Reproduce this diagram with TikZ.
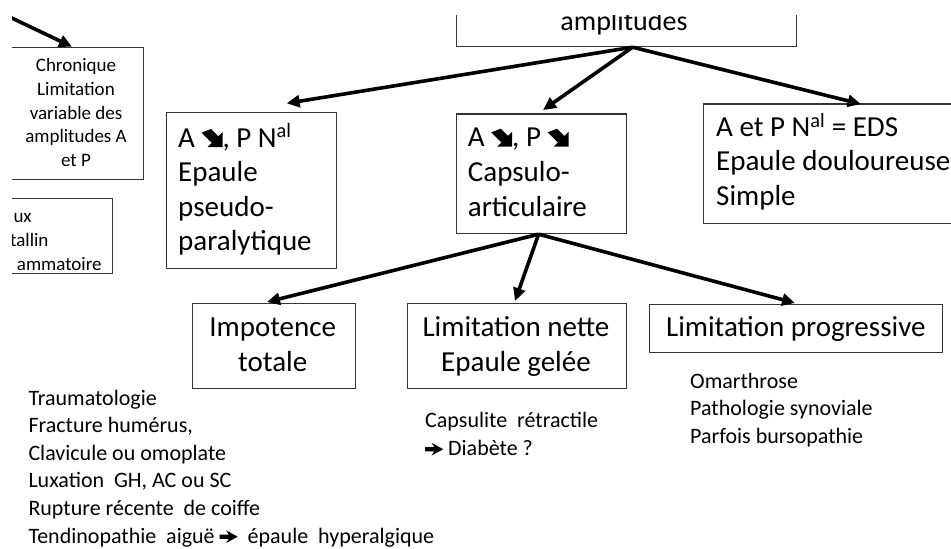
\documentclass[tikz,border=0pt]{standalone}
\usepackage{fontspec}
\setmainfont{Carlito}
\usetikzlibrary{arrows.meta,calc}
\newcommand\sear{\tikz[x=1pt,y=1pt,baseline=0pt,line width=0pt]\fill[black] (7,0)--(22,0)--(22,15)--(17.8,10.8)--(10.6,18)--(1,14.4)--(11.2,4.2)--cycle;}
\newcommand\rar{\tikz[x=1pt,y=1pt,baseline=0pt,line width=0pt]\fill[black] (0,4.2)--(9,4.2)--(6.5,0)--(18,6.3)--(6.5,12.6)--(9,8.4)--(0,8.4)--cycle;}
\begin{document}
\begin{tikzpicture}[x=1pt,y=-1pt,
  box/.style={draw=black!80, line width=1.2pt, anchor=north west, inner sep=0pt},
  arr/.style={line width=3.6pt, -{Triangle[length=13pt,width=12pt]}},
  big/.style={inner sep=0pt, font=\fontsize{29}{34.5}\selectfont},
  small/.style={inner sep=0pt, font=\fontsize{22}{27.6}\selectfont},
  tiny/.style={inner sep=0pt, font=\fontsize{19}{23.7}\selectfont}]
\useasboundingbox (0,0) rectangle (951,549);
\fill[white] (0,0) rectangle (951,549);
% boxes
\node[box, minimum width=340pt, minimum height=56pt] (top) at (455.7,-10) {};
\node[box, minimum width=142.7pt, minimum height=132.3pt] (chron) at (0,46.7) {};
\node[box, minimum width=112pt, minimum height=75pt] (ux) at (0,198) {};
\node[box, minimum width=169.7pt, minimum height=155.7pt] (b1) at (166,112) {};
\node[box, minimum width=170pt, minimum height=119.7pt] (b2) at (455.7,113.3) {};
\node[box, minimum width=262pt, minimum height=119.7pt] (b3) at (703,103.3) {};
\node[box, minimum width=163pt, minimum height=85pt] (imp) at (192,303) {};
\node[box, minimum width=218.7pt, minimum height=85pt] (lim) at (407,303) {};
\node[box, minimum width=293pt, minimum height=48pt] (prog) at (649,304) {};
% texts
\node[inner sep=0pt, anchor=base, font=\fontsize{28}{28}\selectfont] (ttop) at (624,30.7) {amplitudes};
\node[tiny, anchor=base, align=flush center, text width=140pt] (tchron) at (76,71.7)
  {Chronique\\Limitation\\variable des\\amplitudes A\\et P};
\node[tiny, anchor=base west, align=flush left, text width=100pt] (tux) at (10,222.7)
  {\hspace*{3.3pt}ux\\tallin\\\hspace*{6.7pt}ammatoire};
\node[big, anchor=base west, align=flush left, text width=150pt] (tb1) at (178,147)
  {A \sear, P N\textsuperscript{al}\\Epaule\\pseudo-\\paralytique};
\node[big, anchor=base west, align=flush left, text width=150pt, font=\fontsize{29}{35}\selectfont] (tb2) at (467.7,146.7)
  {A \sear, P \sear\\Capsulo-\\articulaire};
\node[big, anchor=base west, align=flush left, text width=245pt, font=\fontsize{29}{34.2}\selectfont] (tb3) at (716,136.7)
  {A et P N\textsuperscript{al} = EDS\\Epaule douloureuse\\Simple};
\node[big, anchor=base, align=flush center, text width=160pt, font=\fontsize{29}{35}\selectfont] (timp) at (272.7,336.7)
  {Impotence\\totale};
\node[big, anchor=base, align=flush center, text width=215pt, font=\fontsize{29}{35}\selectfont] (tlim) at (516,336.7)
  {Limitation nette\\Epaule gelée};
\node[big, anchor=base] (tprog) at (795.8,336.7) {Limitation progressive};
\node[small, anchor=base west, align=flush left, text width=240pt, font=\fontsize{22}{27.5}\selectfont] (tomar) at (690,388.3)
  {Omarthrose\\Pathologie synoviale\\Parfois bursopathie};
\node[small, anchor=base west, align=flush left, text width=200pt, font=\fontsize{22}{28.5}\selectfont] (tcaps) at (425,427)
  {Capsulite\ \ rétractile\\\rar\ Diabète ?};
\node[small, anchor=base west, align=flush left, text width=440pt] (ttrau) at (28.3,405)
  {Traumatologie\\Fracture humérus,\\Clavicule ou omoplate\\Luxation\ \ GH, AC ou SC\\Rupture récente\ \ de coiffe\\Tendinopathie\ \ aiguë \rar\ \ épaule\ \ hyperalgique};
% arrows
\coordinate (tlstart) at (0,12.4);
\draw[arr] (tlstart) -- ($(chron.north west)+(72,0)$);
\draw[arr] ($(top.south)+(6.3,0)$) -- ($(b1.north west)+(120.7,-8.7)$);
\draw[arr] ($(top.south)+(6.3,0)$) -- ($(b2.north west)+(87.3,-3.3)$);
\draw[arr] ($(top.south)+(6.3,0)$) -- ($(b3.north west)+(157.7,0.7)$);
\draw[arr] ($(b2.south)+(-2.7,0)$) -- ($(imp.north west)+(75,-1)$);
\draw[arr] ($(b2.south)+(-2.7,0)$) -- ($(lim.north west)+(108,-2)$);
\draw[arr] ($(b2.south)+(-2.7,0)$) -- ($(prog.north west)+(146,-1)$);
% masks (cropped areas of the original)
\fill[white] (-5,-5) rectangle (12,560);
\fill[white] (440,-5) rectangle (800,15);
\end{tikzpicture}
\end{document}
